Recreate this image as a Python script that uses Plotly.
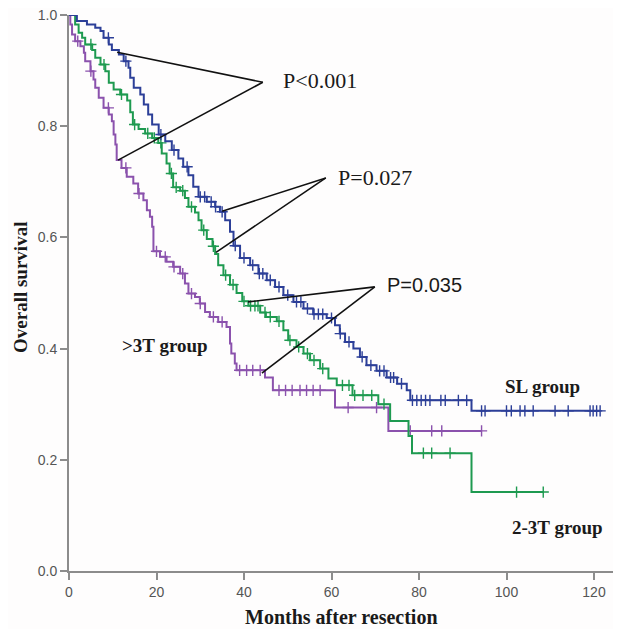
import numpy as np
import plotly.graph_objects as go

# ---------------- data ----------------
# Kaplan-Meier step points: event time (months) and survival after the drop
sl_time = [1.8, 4.1, 6.0, 7.2, 7.9, 9.1, 9.8, 11.4, 12.5, 13.6, 14.0, 14.8, 16.3, 17.1, 18.1, 19.0,
           20.5, 22.0, 23.5, 25.0, 26.1, 27.3, 28.4, 29.6, 31.5, 33.4, 34.5, 35.7, 36.8, 37.6, 39.1,
           41.4, 43.3, 45.2, 47.1, 49.0, 51.3, 53.6, 55.8, 58.9, 60.8, 61.9, 63.1, 65.0, 66.5, 68.0,
           70.3, 72.6, 75.0, 77.2, 78.0, 92.0]
sl_surv = [0.989, 0.983, 0.977, 0.971, 0.959, 0.947, 0.937, 0.929, 0.917, 0.905, 0.887, 0.869, 0.857,
           0.839, 0.821, 0.803, 0.785, 0.773, 0.757, 0.742, 0.727, 0.712, 0.691, 0.673, 0.664, 0.655,
           0.646, 0.631, 0.610, 0.585, 0.563, 0.550, 0.535, 0.523, 0.511, 0.496, 0.484, 0.472, 0.462,
           0.455, 0.442, 0.427, 0.412, 0.400, 0.385, 0.370, 0.360, 0.348, 0.337, 0.325, 0.307, 0.288]
sl_end = 121.4
sl_censor = [9, 13, 21, 24, 27, 30, 31, 32.5, 33.5, 35, 38, 40, 42, 43.5, 44.3, 46, 48, 50, 52, 53,
             54.5, 56, 57, 58, 60, 62, 64, 67, 69, 71, 72, 73.5, 74.2, 76, 78.5, 79.5, 80.5, 81.5,
             82.5, 85, 86, 89, 90.9, 94.3, 95.1, 100.0, 101.1, 103.1, 104.2, 106.1, 111.1, 114.1,
             119.1, 119.8, 120.6, 121.4]

t23_time = [1.4, 2.2, 3.0, 3.7, 5.3, 6.0, 7.2, 8.3, 9.1, 10.2, 11.7, 13.3, 14.0, 14.6, 15.9, 17.4,
            19.0, 20.4, 21.2, 22.3, 23.0, 23.8, 25.4, 26.5, 27.3, 28.8, 29.6, 30.3, 31.5, 32.8, 33.4,
            34.1, 35.3, 36.8, 38.3, 39.6, 41.0, 43.7, 45.0, 47.5, 49.0, 50.1, 52.0, 53.6, 55.1, 57.4,
            59.3, 61.2, 64.8, 70.7, 73.4, 77.6, 78.4, 92.0]
t23_surv = [0.983, 0.968, 0.959, 0.947, 0.937, 0.923, 0.911, 0.899, 0.878, 0.866, 0.857, 0.846, 0.825,
            0.803, 0.795, 0.787, 0.779, 0.770, 0.751, 0.733, 0.715, 0.690, 0.684, 0.671, 0.655, 0.645,
            0.631, 0.613, 0.597, 0.584, 0.570, 0.550, 0.532, 0.515, 0.500, 0.485, 0.477, 0.465, 0.457,
            0.449, 0.433, 0.415, 0.403, 0.391, 0.379, 0.364, 0.346, 0.334, 0.316, 0.300, 0.270, 0.243,
            0.212, 0.142]
t23_end = 108.4
t23_censor = [5, 8, 12, 15, 18, 19.5, 21, 23.4, 24.5, 26, 28, 30.8, 33, 35.8, 37.5, 40, 41.5, 42.5,
              43.2, 44.8, 46, 48, 50.5, 52.5, 54.5, 56, 58, 62.5, 64, 65.3, 67.2, 69.2, 72, 81, 82.9,
              87.1, 102.3, 108.4]

gt3_time = [0.3, 0.7, 1.4, 2.6, 3.4, 3.7, 4.9, 5.6, 6.0, 6.8, 7.9, 9.1, 9.8, 10.2, 10.6, 10.9, 12.0,
            13.2, 14.7, 15.8, 17.0, 17.8, 18.5, 19.0, 19.3, 20.8, 22.3, 23.8, 25.4, 26.5, 27.3, 28.8,
            29.9, 31.1, 32.2, 34.1, 36.0, 36.8, 37.1, 37.9, 38.3, 44.8, 46.6, 60.8, 73.0]
gt3_surv = [0.983, 0.965, 0.953, 0.944, 0.932, 0.917, 0.899, 0.884, 0.869, 0.851, 0.833, 0.821, 0.809,
            0.785, 0.767, 0.739, 0.725, 0.709, 0.697, 0.679, 0.667, 0.649, 0.637, 0.619, 0.575, 0.565,
            0.556, 0.547, 0.535, 0.517, 0.499, 0.493, 0.481, 0.466, 0.457, 0.448, 0.439, 0.409, 0.391,
            0.373, 0.361, 0.348, 0.325, 0.294, 0.252]
gt3_end = 94.3
gt3_censor = [2, 5, 9, 13, 16, 20, 22, 24, 26, 28, 30, 33, 35, 39, 40.6, 42, 43.7, 48, 49.5, 51,
              52.8, 54.3, 55.8, 57.4, 63.8, 70.3, 78, 82.9, 85.2, 94.3]

x_ticks = [0, 20, 40, 60, 80, 100, 120]
y_ticks = [0.0, 0.2, 0.4, 0.6, 0.8, 1.0]

group_labels = [">3T group", "SL group", "2-3T group"]
p_labels = ["P<0.001", "P=0.027", "P=0.035"]

# ---------------- figure ----------------
BLUE = "#2c3f98"
GREEN = "#1e9a50"
PURPLE = "#8b52ad"


def step_xy(times, surv, end):
    xs = [0.0] + list(times) + [end]
    ys = [1.0] + list(surv) + [surv[-1]]
    return xs, ys


def censor_y(times, surv, cens):
    t = np.asarray(times)
    s = np.concatenate([[1.0], np.asarray(surv)])
    idx = np.searchsorted(t, np.asarray(cens), side="right")
    return s[idx]


fig = go.Figure()
for times, surv, end, cens, col in [
    (gt3_time, gt3_surv, gt3_end, gt3_censor, PURPLE),
    (t23_time, t23_surv, t23_end, t23_censor, GREEN),
    (sl_time, sl_surv, sl_end, sl_censor, BLUE),
]:
    xs, ys = step_xy(times, surv, end)
    fig.add_trace(go.Scatter(x=xs, y=ys, mode="lines", line=dict(color=col, width=2, shape="hv"),
                             showlegend=False, hoverinfo="skip"))
    fig.add_trace(go.Scatter(x=cens, y=censor_y(times, surv, cens), mode="markers",
                             marker=dict(symbol="cross-thin", size=8, line=dict(color=col, width=1.4)),
                             showlegend=False, hoverinfo="skip", cliponaxis=False))

# P-value pointer lines (apex -> curve points)
pointers = [
    ((44.3, 0.879), [(11.0, 0.933), (11.2, 0.739)]),
    ((58.7, 0.707), [(35.0, 0.647), (33.6, 0.573)]),
    ((69.9, 0.511), [(40.9, 0.484), (44.1, 0.356)]),
]
for (ax_, ay_), targets in pointers:
    for tx, ty in targets:
        fig.add_shape(type="line", x0=ax_, y0=ay_, x1=tx, y1=ty, xref="x", yref="y",
                      line=dict(color="#111111", width=1.6))

p_pos = [(48.5, 0.883), (61.0, 0.708), (72.2, 0.514)]
p_fonts = [dict(family="Liberation Serif", size=22, color="#1a1a1a"),
           dict(family="Liberation Serif", size=22, color="#1a1a1a"),
           dict(family="Liberation Sans", size=20, color="#1a1a1a")]
for lab, (px, py), f in zip(p_labels, p_pos, p_fonts):
    fig.add_annotation(x=px, y=py, text=lab, showarrow=False, xanchor="left", yanchor="middle",
                       font=f)

g_pos = [(11.7, 0.406), (99.2, 0.331), (100.8, 0.079)]
for lab, (gx, gy) in zip(group_labels, g_pos):
    fig.add_annotation(x=gx, y=gy, text=lab, showarrow=False, xanchor="left", yanchor="middle",
                       font=dict(family="Liberation Serif", size=19, color="#1a1a1a", weight="bold"))

# axis titles
fig.add_annotation(x=0.499, y=0, xref="paper", yref="paper", yshift=-46, text="Months after resection",
                   showarrow=False, xanchor="center", yanchor="middle",
                   font=dict(family="Liberation Serif", size=20, color="#1a1a1a", weight="bold"))
fig.add_annotation(x=0, y=0.509, xref="paper", yref="paper", xshift=-48, text="Overall survival",
                   showarrow=False, textangle=-90, xanchor="center", yanchor="middle",
                   font=dict(family="Liberation Serif", size=19, color="#1a1a1a", weight="bold"))

axis_common = dict(showgrid=False, zeroline=False, showline=True, linecolor="#8c8c8c", linewidth=2,
                   ticks="outside", ticklen=7, tickwidth=2, tickcolor="#8c8c8c",
                   ticklabeloverflow="allow", automargin=False,
                   tickfont=dict(family="Liberation Sans", size=14, color="#555555"))
fig.update_xaxes(range=[0, 124.8], tickvals=x_ticks, ticktext=[str(v) for v in x_ticks], **axis_common)
fig.update_yaxes(range=[0, 1.0], tickvals=y_ticks, ticktext=[f"{v:.1f}" for v in y_ticks],
                 **axis_common)

# page body has an 8px margin, so the figure is made 8px smaller and margins shifted accordingly
fig.update_layout(width=613, height=621, margin=dict(l=61, r=6, t=7, b=58, autoexpand=False),
                  paper_bgcolor="#fefdfd", plot_bgcolor="#fefdfd", showlegend=False)

fig.write_html("out.html")
